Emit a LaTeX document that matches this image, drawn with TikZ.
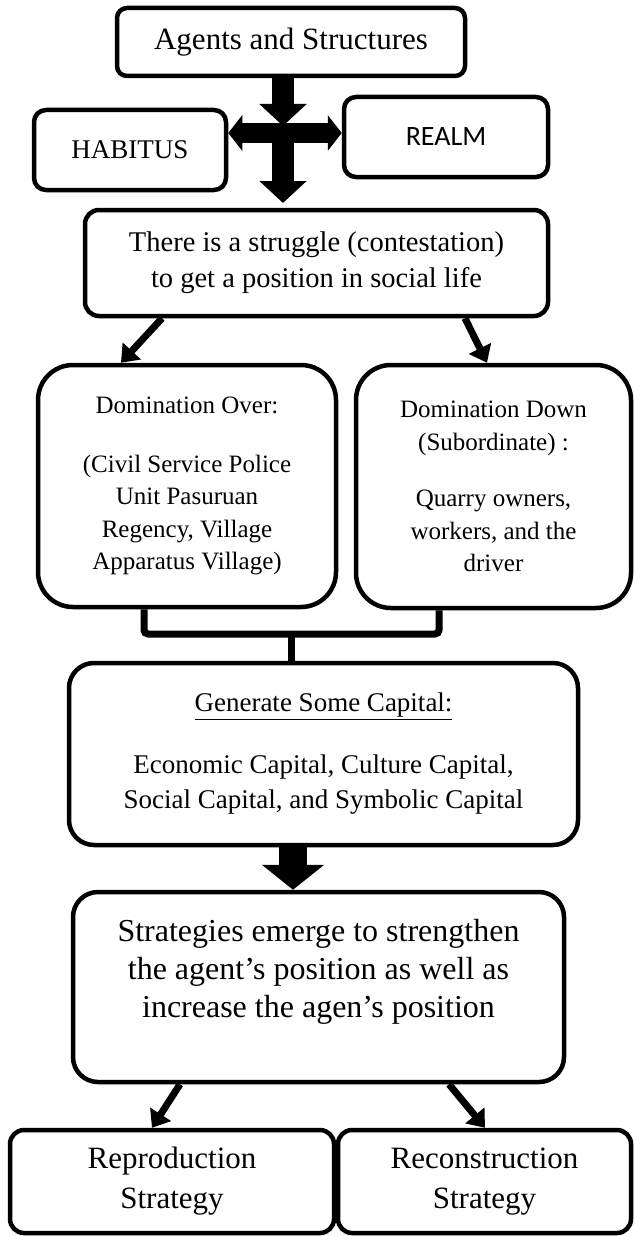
\documentclass[tikz,border=0pt]{standalone}
\usepackage{fontspec}
\setmainfont{Liberation Serif}
\newfontfamily\realmfont{Carlito}
\usetikzlibrary{arrows.meta}

\begin{document}
\begin{tikzpicture}[x=1pt,y=-1pt,
    box/.style={draw,line width=4.5pt,rounded corners=#1,align=center,inner sep=0pt},
    box/.default=12pt,
    fatarrow/.style={line width=22pt,-{Triangle[width=46pt,length=22pt]}},
    thinarrow/.style={line width=7pt,-{Triangle[width=24pt,length=16pt]}},
    bracket/.style={line width=7pt,rounded corners=4pt}]
    \useasboundingbox (0,0) rectangle (634,1236);

    % top part: agents, habitus and realm
    \node[box=10pt,minimum width=348pt,minimum height=68pt,font=\fontsize{31}{36}\selectfont] (agents) at (291,42) {Agents and Structures};
    \node[box,minimum width=192pt,minimum height=80pt,font=\fontsize{27}{32}\selectfont] (habitus) at (130,150) {HABITUS};
    \node[box,minimum width=204pt,minimum height=80pt,font=\realmfont\fontsize{28}{32}\selectfont] (realm) at (446,137) {REALM};
    \coordinate (hub) at (283,126);
    \coordinate (cross) at (283,133);
    \coordinate (midtip) at (283,203);
    \draw[fatarrow] (agents.south -| hub) -- (hub);
    \draw[line width=20pt,{Triangle[width=35pt,length=14pt]}-{Triangle[width=35pt,length=14pt]}] (habitus.east |- cross) -- (realm.west |- cross);
    \draw[fatarrow] (cross) -- (midtip);

    \node[box=14pt,minimum width=463pt,minimum height=106pt,font=\fontsize{28.5}{36}\selectfont] (struggle) at (316.5,263) {There is a struggle (contestation)\\to get a position in social life};

    % the two dominations
    \node[box=35pt,minimum width=298pt,minimum height=242pt,font=\fontsize{25}{32.5}\selectfont] (domover) at (187,486) {Domination Over:\\[26pt](Civil Service Police\\Unit Pasuruan\\Regency, Village\\Apparatus Village)};
    \node[box=35pt,minimum width=275pt,minimum height=243pt,font=\fontsize{25}{32.5}\selectfont] (domdown) at (493.5,486.5) {Domination Down\\(Subordinate) :\\[24pt]Quarry owners,\\workers, and the\\driver};
    \draw[thinarrow] ([xshift=-154.5pt]struggle.south) -- ([xshift=-66pt]domover.north);
    \draw[thinarrow] ([xshift=148.5pt]struggle.south) -- ([xshift=-6.5pt]domdown.north);

    \node[box=25pt,minimum width=509pt,minimum height=182pt,font=\fontsize{27}{35}\selectfont] (capital) at (323.5,754) {\underline{Generate Some Capital:}\\[27pt]Economic Capital, Culture Capital,\\Social Capital, and Symbolic Capital};
    \coordinate (join) at (291,634);
    \draw[bracket] ([xshift=-43pt]domover.south) |- (join) -| ([xshift=-54.5pt]domdown.south);
    \draw[bracket] (join) -- (join |- capital.north);

    % strategies
    \node[box=25pt,minimum width=491pt,minimum height=190pt,font=\fontsize{32}{38}\selectfont] (strat) at (318.5,987) {Strategies emerge to strengthen\\the agent’s position as well as\\increase the agen’s position\\ \mbox{}};
    \draw[line width=28pt,-{Triangle[width=61pt,length=25pt]}] ([xshift=-30.5pt]capital.south) -- ([xshift=-25.5pt]strat.north);

    \node[box=14pt,minimum width=324pt,minimum height=103pt,font=\fontsize{31}{40}\selectfont] (repro) at (172,1181.5) {Reproduction\\Strategy};
    \node[box=14pt,minimum width=293pt,minimum height=103pt,font=\fontsize{31}{40}\selectfont] (recon) at (484.5,1181.5) {Reconstruction\\Strategy};
    \draw[thinarrow] ([xshift=-138.5pt]strat.south) -- ([xshift=-20pt]repro.north);
    \draw[thinarrow] ([xshift=130.5pt]strat.south) -- ([xshift=0.5pt]recon.north);
  \end{tikzpicture}
\end{document}
